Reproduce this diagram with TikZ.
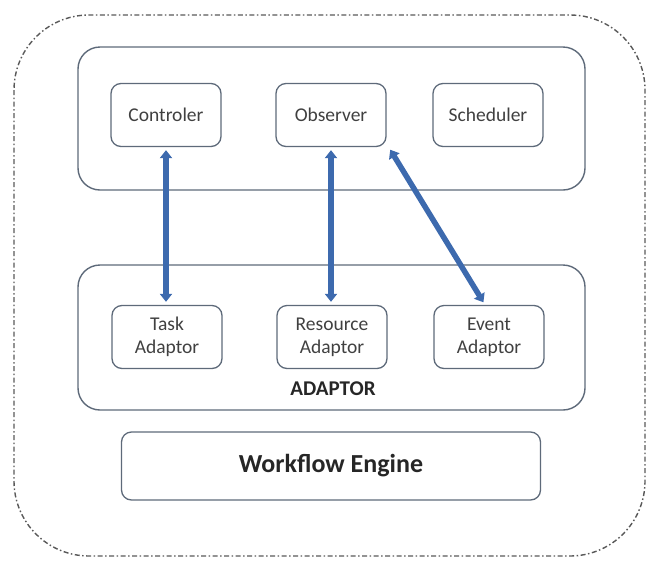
\documentclass[tikz,border=0pt]{standalone}
\usepackage{fontspec}
\setmainfont{Carlito}
\usetikzlibrary{arrows.meta}
\definecolor{boxline}{HTML}{5E6A7A}
\definecolor{link}{HTML}{3D6AAE}
\definecolor{labeltext}{HTML}{404040}
\begin{document}
\begin{tikzpicture}[x=1pt,y=-1pt,
  frame/.style={draw=boxline,line width=1.4pt,rounded corners=22pt},
  unit/.style={draw=boxline,line width=1.3pt,rounded corners=10pt,
    minimum width=110pt,minimum height=63pt,align=center,
    font=\fontsize{19.5}{23}\selectfont,text=labeltext},
  link/.style={draw=link,line width=5.5pt,
    {Triangle[width=12pt,length=8pt]}-{Triangle[width=12pt,length=8pt]},
    shorten <=3pt,shorten >=3pt}]
\useasboundingbox (0,0) rectangle (648,563);
% outer dash-dotted boundary
\draw[gray!70!black,line width=1.4pt,rounded corners=75pt,
  dash pattern=on 5pt off 2.5pt on 1.5pt off 2.5pt]
  (14,15) rectangle (645,556);
% upper group
\draw[frame] (78,47) rectangle (585,190);
\node[unit] (ctrl) at (166,115) {Controler};
\node[unit] (obs)  at (331,115) {Observer};
\node[unit] (sch)  at (488,115) {Scheduler};
% adaptor group
\draw[frame] (78,265) rectangle (585,410);
\node[unit] (task) at (167,337) {Task\\Adaptor};
\node[unit] (res)  at (332,337) {Resource\\Adaptor};
\node[unit] (evt)  at (489,337) {Event\\Adaptor};
\node[font=\fontsize{21}{24}\selectfont\bfseries,text=black!85] (adlabel) at (333,389) {ADAPTOR};
% engine
\node[draw=boxline,line width=1.3pt,rounded corners=10pt,
  minimum width=419pt,minimum height=68pt,
  font=\fontsize{26}{30}\selectfont\bfseries,text=black!85] (eng) at (331,466) {Workflow Engine};
% links
\draw[link] (ctrl.south) -- (ctrl.south |- task.north);
\draw[link] (obs.south) -- (obs.south |- res.north);
\draw[link] ([xshift=2pt]obs.south east) -- ([xshift=-4pt]evt.north);
\end{tikzpicture}
\end{document}
